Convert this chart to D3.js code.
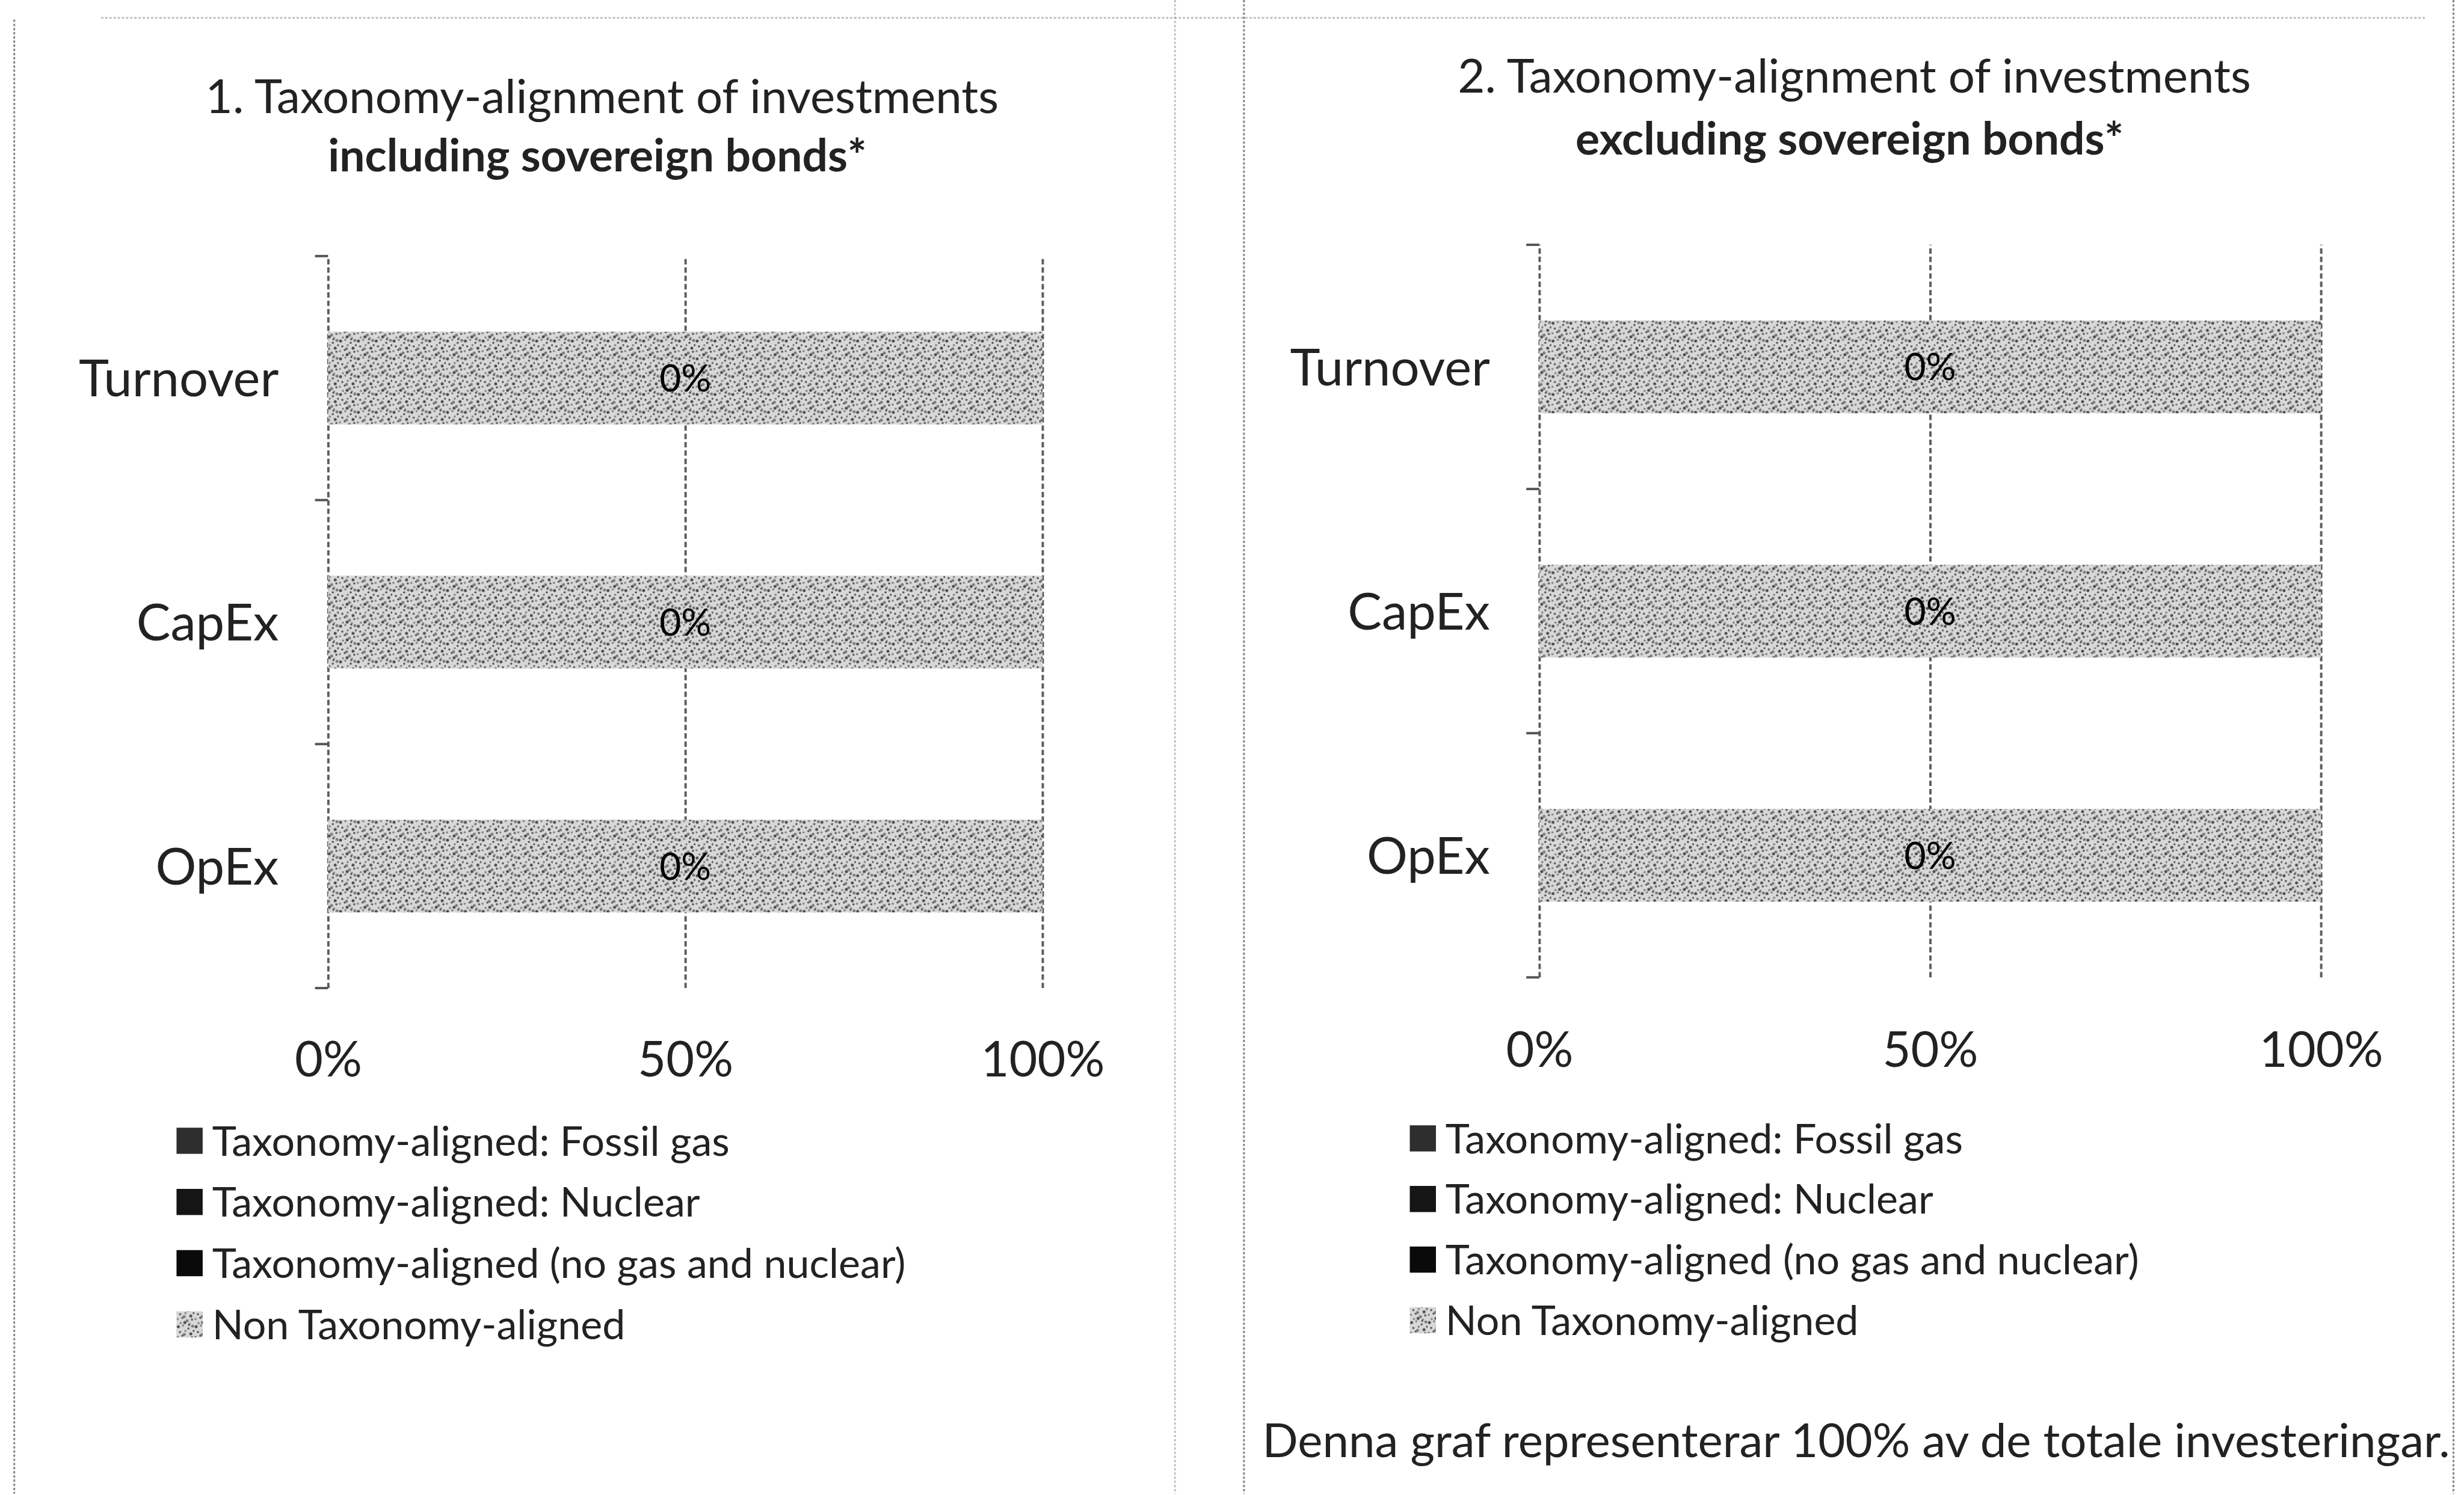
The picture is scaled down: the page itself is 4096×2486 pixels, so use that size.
<!DOCTYPE html>
<html>
<head>
<meta charset="utf-8">
<script src="https://cdn.jsdelivr.net/npm/d3@7"></script>
<style>
  html, body { margin: 0; padding: 0; background: #fff; }
  svg { display: block; font-family: Lato, "Open Sans", sans-serif; }
  .grid line { stroke: #5e5e5e; stroke-width: 4; stroke-dasharray: 9, 5; }
  .border { stroke: #7a7a7a; stroke-width: 3; stroke-dasharray: 4, 3; fill: none; }
</style>
</head>
<body>
<svg id="chart" width="4096" height="2486"></svg>
<script>
const categories = ["Turnover", "CapEx", "OpEx"];
const seriesNames = [
    "Taxonomy-aligned: Fossil gas",
    "Taxonomy-aligned: Nuclear",
    "Taxonomy-aligned (no gas and nuclear)",
    "Non Taxonomy-aligned"
];

// chart 1: including sovereign bonds
const fossilGas1 = [0, 0, 0];
const nuclear1 = [0, 0, 0];
const alignedOther1 = [0, 0, 0];
const nonAligned1 = [100, 100, 100];

// chart 2: excluding sovereign bonds
const fossilGas2 = [0, 0, 0];
const nuclear2 = [0, 0, 0];
const alignedOther2 = [0, 0, 0];
const nonAligned2 = [100, 100, 100];

const xTicks = [0, 50, 100];
const titles1 = ["1. Taxonomy-alignment of investments", "including sovereign bonds*"];
const titles2 = ["2. Taxonomy-alignment of investments", "excluding sovereign bonds*"];
const footnote = "Denna graf representerar 100% av de totale investeringar.";

const keys = ["fossil", "nuclear", "aligned", "non"];
const colors = { fossil: "#2e2e2e", nuclear: "#151515", aligned: "#0a0a0a", non: "url(#dots)" };

const svg = d3.select("#chart");

// dotted fill used by Excel for the non aligned series
const pat = svg.append("defs").append("pattern")
    .attr("id", "dots")
    .attr("width", 30).attr("height", 30)
    .attr("patternUnits", "userSpaceOnUse");
pat.append("rect").attr("width", 30).attr("height", 30).attr("fill", "#d8d8d8");
const specks = [[3,4],[11,2],[20,7],[27,3],[6,13],[15,11],[24,16],[2,21],[10,19],[18,24],[26,22],[7,28],[14,27],[22,29],[29,11],[13,17],[21,1]];
pat.selectAll("circle").data(specks).enter().append("circle")
    .attr("cx", d => d[0]).attr("cy", d => d[1])
    .attr("r", (d, i) => i % 3 == 0 ? 2.5 : 1.8)
    .attr("fill", (d, i) => i % 2 ? "#7a7a7a" : "#4a4a4a");

const root = svg.append("g").attr("transform", "scale(0.988)");

// scanned page borders
const borders = [
    [24, 33, 24, 2514], [1977, 0, 1977, 2514],
    [2093, 0, 2093, 2514], [4128, 0, 4128, 2514]
];
root.selectAll(".border").data(borders).enter().append("line")
    .attr("class", "border")
    .attr("x1", d => d[0]).attr("y1", d => d[1])
    .attr("x2", d => d[2]).attr("y2", d => d[3])
    .attr("stroke-opacity", (d, i) => i == 1 ? 0.45 : 0.9);
root.append("line").attr("class", "border")
    .attr("x1", 170).attr("x2", 4080).attr("y1", 30).attr("y2", 30)
    .attr("stroke-dasharray", "4, 130").attr("stroke-opacity", 0.5);

const drawPanel = (g, cfg, titles, cols) => {
    const rows = categories.map((c, i) => ({
        name: c,
        fossil: cols[0][i],
        nuclear: cols[1][i],
        aligned: cols[2][i],
        non: cols[3][i]
    }));

    const x = d3.scaleLinear().domain([0, 100]).range([cfg.x0, cfg.x1]);
    const y = d3.scaleBand().domain(categories).range([cfg.y0, cfg.y1])
        .paddingInner(0.62).paddingOuter(0.31);

    // title
    g.append("text")
        .attr("x", cfg.tx).attr("y", cfg.t1)
        .attr("text-anchor", "middle")
        .attr("font-size", 79).attr("fill", "#222")
        .text(titles[0]);
    g.append("text")
        .attr("x", cfg.tx - 8).attr("y", cfg.t2)
        .attr("text-anchor", "middle")
        .attr("font-size", 76).attr("font-weight", "bold").attr("fill", "#222")
        .text(titles[1]);

    // vertical gridlines
    g.append("g")
        .attr("class", "grid")
        .attr("transform", "translate(0," + cfg.y1 + ")")
        .call(d3.axisBottom(x).tickValues(xTicks).tickSize(-(cfg.y1 - cfg.y0)).tickFormat(""))
        .call(a => a.select(".domain").remove());

    // category axis ticks at band edges
    const edges = d3.range(categories.length + 1).map(i => cfg.y0 + i * y.step());
    g.append("g").selectAll("line").data(edges).enter().append("line")
        .attr("x1", cfg.x0 - 22).attr("x2", cfg.x0)
        .attr("y1", d => d).attr("y2", d => d)
        .attr("stroke", "#555").attr("stroke-width", 4);

    const stack = d3.stack().keys(keys)(rows);

    g.append("g")
        .selectAll("g")
        .data(stack)
        .enter()
        .append("g")
        .attr("fill", d => colors[d.key])
        .selectAll("rect")
        .data(d => d)
        .enter()
        .append("rect")
        .attr("x", d => x(d[0]))
        .attr("y", d => y(d.data.name))
        .attr("width", d => x(d[1]) - x(d[0]))
        .attr("height", y.bandwidth());

    // "0%" labels: share that is taxonomy-aligned
    g.append("g")
        .selectAll("text")
        .data(rows)
        .enter()
        .append("text")
        .attr("x", d => x((d.fossil + d.nuclear + d.aligned + d.non) / 2))
        .attr("y", d => y(d.name) + y.bandwidth() / 2)
        .attr("dy", "0.36em")
        .attr("text-anchor", "middle")
        .attr("font-size", 63).attr("fill", "#000")
        .text(d => d3.format(".0%")((d.fossil + d.nuclear + d.aligned) / 100));

    // category labels
    g.append("g")
        .attr("transform", "translate(" + (cfg.x0 - 83) + ",0)")
        .call(d3.axisLeft(y).tickSize(0).tickPadding(0))
        .attr("font-family", null).attr("font-size", null)
        .call(a => a.select(".domain").remove())
        .selectAll("text")
        .attr("font-size", 86).attr("fill", "#222")
        .attr("dy", "0.36em");

    // x tick labels
    g.append("g")
        .attr("transform", "translate(0," + cfg.xl + ")")
        .call(d3.axisBottom(x).tickValues(xTicks).tickSize(0).tickFormat(d => d + "%"))
        .attr("font-family", null).attr("font-size", null)
        .call(a => a.select(".domain").remove())
        .selectAll("text")
        .attr("y", 0).attr("dy", null)
        .attr("font-size", 82).attr("fill", "#222");

    // legend
    const leg = g.append("g")
        .selectAll("g")
        .data(keys)
        .enter()
        .append("g")
        .attr("transform", (d, i) => "translate(" + cfg.lx + "," + (cfg.ly + i * cfg.ls) + ")");
    leg.append("rect")
        .attr("x", 0).attr("y", -22)
        .attr("width", 44).attr("height", 44)
        .attr("fill", d => colors[d]);
    leg.append("text")
        .attr("x", 60).attr("dy", "0.36em")
        .attr("font-size", 69).attr("fill", "#222")
        .text((d, i) => seriesNames[i]);
};

drawPanel(root.append("g"), {
    x0: 552, x1: 1754, y0: 431, y1: 1663,
    tx: 1013, t1: 190, t2: 288,
    xl: 1812, lx: 297, ly: 1920, ls: 103
}, titles1, [fossilGas1, nuclear1, alignedOther1, nonAligned1]);

drawPanel(root.append("g"), {
    x0: 2590, x1: 3905, y0: 412, y1: 1645,
    tx: 3120, t1: 156, t2: 260,
    xl: 1796, lx: 2372, ly: 1916, ls: 102
}, titles2, [fossilGas2, nuclear2, alignedOther2, nonAligned2]);

root.append("text")
    .attr("x", 2124).attr("y", 2452)
    .attr("font-size", 79).attr("fill", "#222")
    .text(footnote);
</script>
</body>
</html>
